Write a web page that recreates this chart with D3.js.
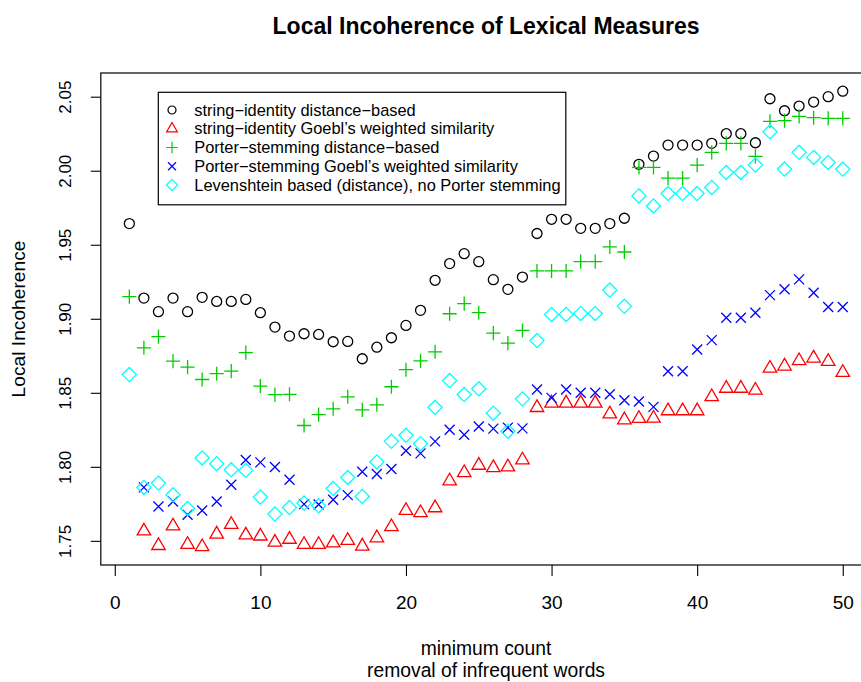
<!DOCTYPE html>
<html>
<head>
<meta charset="utf-8">
<script src="https://cdn.jsdelivr.net/npm/d3@7"></script>
<style>
  html, body { margin: 0; padding: 0; background: #fff; }
  svg { display: block; }
  text { font-family: "Liberation Sans", Arial, Helvetica, sans-serif; fill: #000; }
</style>
</head>
<body>
<svg id="chart" width="861" height="682"></svg>
<script>
// ---------------- data ----------------
const minCount = d3.range(1, 51);

const stringIdentityDistance = [1.9643, 1.9140, 1.9048, 1.9140, 1.9048, 1.9145, 1.9117, 1.9117, 1.9131, 1.9041,
  1.8944, 1.8883, 1.8899, 1.8894, 1.8845, 1.8847, 1.8730, 1.8808, 1.8872, 1.8955,
  1.9057, 1.9260, 1.9373, 1.9440, 1.9386, 1.9264, 1.9199, 1.9282, 1.9576, 1.9672,
  1.9672, 1.9611, 1.9611, 1.9643, 1.9679, 2.0043, 2.0099, 2.0173, 2.0173, 2.0173,
  2.0185, 2.0250, 2.0250, 2.0189, 2.0486, 2.0405, 2.0437, 2.0464, 2.0500, 2.0537];

const stringIdentityGoebl = [null, 1.7566, 1.7468, 1.7600, 1.7475, 1.7460, 1.7545, 1.7610, 1.7539, 1.7532,
  1.7490, 1.7510, 1.7475, 1.7475, 1.7486, 1.7502, 1.7464, 1.7520, 1.7595, 1.7705,
  1.7690, 1.7723, 1.7904, 1.7960, 1.8010, 1.7994, 1.7999, 1.8046, 1.8400, 1.8430,
  1.8430, 1.8430, 1.8430, 1.8357, 1.8317, 1.8326, 1.8328, 1.8378, 1.8378, 1.8378,
  1.8473, 1.8530, 1.8530, 1.8517, 1.8666, 1.8680, 1.8716, 1.8734, 1.8711, 1.8637];

const porterDistance = [1.9150, 1.8804, 1.8879, 1.8714, 1.8673, 1.8590, 1.8629, 1.8646, 1.8771, 1.8545,
  1.8488, 1.8490, 1.8279, 1.8353, 1.8392, 1.8473, 1.8385, 1.8419, 1.8541, 1.8656,
  1.8716, 1.8777, 1.9034, 1.9102, 1.9041, 1.8903, 1.8836, 1.8921, 1.9323, 1.9323,
  1.9323, 1.9386, 1.9386, 1.9485, 1.9451, 2.0022, 2.0022, 1.9950, 1.9950, 2.0038,
  2.0124, 2.0185, 2.0185, 2.0097, 2.0334, 2.0338, 2.0367, 2.0358, 2.0354, 2.0354];

const porterGoebl = [null, 1.7861, 1.7732, 1.7766, 1.7676, 1.7705, 1.7766, 1.7879, 1.8046, 1.8030,
  1.7999, 1.7913, 1.7748, 1.7746, 1.7778, 1.7809, 1.7967, 1.7951, 1.7985, 1.8109,
  1.8091, 1.8172, 1.8251, 1.8217, 1.8272, 1.8258, 1.8265, 1.8260, 1.8522, 1.8466,
  1.8522, 1.8500, 1.8500, 1.8490, 1.8450, 1.8441, 1.8405, 1.8646, 1.8646, 1.8793,
  1.8856, 1.9007, 1.9007, 1.9041, 1.9160, 1.9199, 1.9266, 1.9176, 1.9079, 1.9079];

const levenshtein = [1.8623, 1.7861, 1.7890, 1.7811, 1.7719, 1.8060, 1.8021, 1.7980, 1.7976, 1.7796,
  1.7681, 1.7725, 1.7755, 1.7737, 1.7854, 1.7928, 1.7800, 1.8033, 1.8172, 1.8213,
  1.8156, 1.8402, 1.8583, 1.8488, 1.8527, 1.8362, 1.8240, 1.8459, 1.8853, 1.9029,
  1.9029, 1.9036, 1.9036, 1.9194, 1.9084, 1.9830, 1.9762, 1.9846, 1.9846, 1.9846,
  1.9887, 1.9988, 1.9988, 2.0038, 2.0263, 2.0011, 2.0124, 2.0090, 2.0056, 2.0011];

const seriesNames = [
  "string\u2212identity distance\u2212based",
  "string\u2212identity Goebl\u2019s weighted similarity",
  "Porter\u2212stemming distance\u2212based",
  "Porter\u2212stemming Goebl\u2019s weighted similarity",
  "Levenshtein based (distance), no Porter stemming"
];
const seriesValues = [stringIdentityDistance, stringIdentityGoebl, porterDistance, porterGoebl, levenshtein];
const seriesColors = ["#000000", "#FF0000", "#00CD00", "#0000FF", "#00FFFF"];
const seriesShapes = ["circle", "triangle", "plus", "cross", "diamond"];

const xTicks = [0, 10, 20, 30, 40, 50];
const yTicks = [1.75, 1.80, 1.85, 1.90, 1.95, 2.00, 2.05];

const titleText = "Local Incoherence of Lexical Measures";
const xLabelLines = ["minimum count", "removal of infrequent words"];
const yLabelText = "Local Incoherence";

// ---------------- layout ----------------
const svg = d3.select("#chart");
const plot = { left: 100.8, right: 871.3, top: 73, bottom: 565 };

function rExtend(ext) { const d = (ext[1] - ext[0]) * 0.04; return [ext[0] - d, ext[1] + d]; }

const xExt = rExtend(d3.extent(minCount));
const allVals = seriesValues.flat().filter(v => v != null);
const yExt = rExtend(d3.extent(allVals));

const x = d3.scaleLinear().domain(xExt).range([plot.left, plot.right]);
const y = d3.scaleLinear().domain(yExt).range([plot.bottom, plot.top]);

// marker path generator (R pch 1-5 geometry)
const R = 5;
function markerPath(shape, s) {
  const r = R * s;
  const p = d3.path();
  if (shape === "circle") {
    p.moveTo(r, 0); p.arc(0, 0, r, 0, 2 * Math.PI);
  } else if (shape === "triangle") {
    const top = 1.5551 * r, h = 1.3468 * r, yc = 0.7776 * r;
    p.moveTo(0, -top); p.lineTo(h, yc); p.lineTo(-h, yc); p.closePath();
  } else if (shape === "plus") {
    const a = Math.SQRT2 * r;
    p.moveTo(-a, 0); p.lineTo(a, 0); p.moveTo(0, -a); p.lineTo(0, a);
  } else if (shape === "cross") {
    p.moveTo(-r, -r); p.lineTo(r, r); p.moveTo(-r, r); p.lineTo(r, -r);
  } else if (shape === "diamond") {
    const a = Math.SQRT2 * r;
    p.moveTo(0, -a); p.lineTo(a, 0); p.lineTo(0, a); p.lineTo(-a, 0); p.closePath();
  }
  return p.toString();
}

// clip for points
svg.append("clipPath").attr("id", "plotclip").append("rect")
  .attr("x", plot.left).attr("y", plot.top)
  .attr("width", plot.right - plot.left).attr("height", plot.bottom - plot.top);

// points
seriesValues.forEach((vals, si) => {
  const pts = minCount.map((c, i) => ({ c, v: vals[i] })).filter(d => d.v != null);
  svg.append("g").attr("clip-path", "url(#plotclip)")
    .selectAll("path").data(pts).join("path")
    .attr("transform", d => `translate(${x(d.c)},${y(d.v)})`)
    .attr("d", markerPath(seriesShapes[si], 1))
    .attr("fill", "none")
    .attr("stroke", seriesColors[si])
    .attr("stroke-width", 1.3);
});

// box
svg.append("rect")
  .attr("x", plot.left).attr("y", plot.top)
  .attr("width", plot.right - plot.left).attr("height", plot.bottom - plot.top)
  .attr("fill", "none").attr("stroke", "#000").attr("stroke-width", 1.2);

// x axis
const xAxis = d3.axisBottom(x).tickValues(xTicks).tickSize(11).tickPadding(0).tickFormat(d3.format("d"));
const gx = svg.append("g").attr("transform", `translate(0,${plot.bottom})`).call(xAxis);
gx.select(".domain").remove();
gx.selectAll(".tick line").attr("stroke", "#000").attr("stroke-width", 1.1);
gx.selectAll(".tick text").attr("y", 44).attr("dy", null)
  .style("font-size", "19px").style("font-family", "'Liberation Sans', Arial, sans-serif").attr("fill", "#000");

// y axis
const yAxis = d3.axisLeft(y).tickValues(yTicks).tickSize(10).tickFormat(d3.format(".2f"));
const gy = svg.append("g").attr("transform", `translate(${plot.left},0)`).call(yAxis);
gy.select(".domain").remove();
gy.selectAll(".tick line").attr("stroke", "#000").attr("stroke-width", 1.1);
gy.selectAll(".tick text")
  .attr("x", null).attr("dy", null)
  .attr("text-anchor", "middle")
  .attr("transform", `translate(${65 - plot.left},0) rotate(-90)`)
  .attr("dy", "0.36em")
  .style("font-size", "17px").style("font-family", "'Liberation Sans', Arial, sans-serif").attr("fill", "#000");

// title
svg.append("text")
  .attr("x", (plot.left + plot.right) / 2).attr("y", 34)
  .attr("text-anchor", "middle")
  .style("font-size", "23px").style("font-weight", "bold")
  .text(titleText);

// x label
xLabelLines.forEach((t, i) => {
  svg.append("text")
    .attr("x", (plot.left + plot.right) / 2).attr("y", 655 + i * 22)
    .attr("text-anchor", "middle")
    .style("font-size", "19.3px")
    .text(t);
});

// y label
svg.append("text")
  .attr("transform", `translate(18.5,${(plot.top + plot.bottom) / 2}) rotate(-90)`)
  .attr("text-anchor", "middle").attr("dy", "0.36em")
  .style("font-size", "19.2px")
  .text(yLabelText);

// legend
const leg = { x: 158.3, y: 92.3, w: 407.5, h: 112.5 };
const lg = svg.append("g");
lg.append("rect").attr("x", leg.x).attr("y", leg.y).attr("width", leg.w).attr("height", leg.h)
  .attr("fill", "#fff").attr("stroke", "#000").attr("stroke-width", 1.2);
seriesNames.forEach((name, i) => {
  const cy = 110 + i * 18.75;
  lg.append("path")
    .attr("transform", `translate(172,${cy})`)
    .attr("d", markerPath(seriesShapes[i], 0.8))
    .attr("fill", "none").attr("stroke", seriesColors[i]).attr("stroke-width", 1.2);
  lg.append("text").attr("x", 194.3).attr("y", cy + 5.6)
    .style("font-size", "16.4px").text(name);
});
</script>
</body>
</html>
